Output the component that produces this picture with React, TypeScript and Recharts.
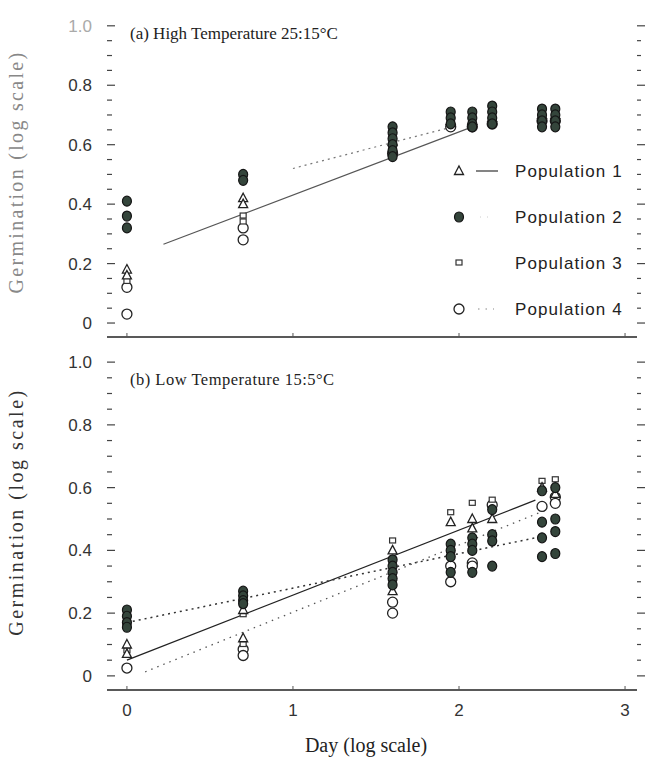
import React from 'react';
import { ComposedChart, Scatter, Line, XAxis, YAxis } from 'recharts';

// log10(day) at which germination was scored
const logDays = [0, 0.7, 1.6, 1.95, 2.08, 2.2, 2.5, 2.58];

// (a) high temperature 25:15C, one list of readings per day
const highPop1 = [[0.18, 0.16], [0.42, 0.4], [0.61], [0.68], [0.68], [0.69], [0.7], [0.7]];
const highPop2 = [
  [0.41, 0.36, 0.32],
  [0.5, 0.48],
  [0.66, 0.64, 0.62, 0.6, 0.58, 0.56],
  [0.71, 0.69, 0.67],
  [0.71, 0.69, 0.67, 0.66],
  [0.73, 0.71, 0.69, 0.67],
  [0.72, 0.7, 0.68, 0.66],
  [0.72, 0.7, 0.68, 0.66],
];
const highPop3 = [[0.14], [0.36, 0.34], [0.59], [0.67], [0.67], [0.68], [0.69], [0.69]];
const highPop4 = [[0.12, 0.03], [0.32, 0.28], [0.57], [0.66], [0.66], [0.67], [0.68], [0.68]];

// (b) low temperature 15:5C
const lowPop1 = [[0.1, 0.07], [0.21, 0.12], [0.4, 0.27], [0.49], [0.5, 0.47], [0.5], [0.6], [0.58]];
const lowPop2 = [
  [0.21, 0.19, 0.17, 0.155],
  [0.27, 0.255, 0.24, 0.23],
  [0.37, 0.35, 0.33, 0.31, 0.29],
  [0.42, 0.4, 0.38, 0.33],
  [0.44, 0.42, 0.4, 0.33],
  [0.53, 0.45, 0.43, 0.35],
  [0.59, 0.49, 0.44, 0.38],
  [0.6, 0.5, 0.46, 0.39],
];
const lowPop3 = [[0.08], [0.195, 0.1], [0.43], [0.52], [0.55], [0.56], [0.62], [0.625]];
const lowPop4 = [[0.025], [0.085, 0.065], [0.235, 0.2], [0.35, 0.3], [0.36, 0.35], [0.545], [0.54], [0.57, 0.55]];

// fitted lines (end points)
const highFit1 = [{ x: 0.22, y: 0.265 }, { x: 2.08, y: 0.66 }];
const highFit2 = [{ x: 1.0, y: 0.52 }, { x: 1.96, y: 0.66 }];
const lowFit1 = [{ x: 0, y: 0.05 }, { x: 2.46, y: 0.56 }];
const lowFit2 = [{ x: 0, y: 0.17 }, { x: 2.46, y: 0.44 }];
const lowFit4 = [{ x: 0.11, y: 0.013 }, { x: 2.53, y: 0.53 }];

const xTicks = [0, 1, 2, 3];
const yTicks = [0, 0.05, 0.1, 0.15, 0.2, 0.25, 0.3, 0.35, 0.4, 0.45, 0.5, 0.55, 0.6, 0.65, 0.7, 0.75, 0.8, 0.85, 0.9, 0.95, 1.0];
const yMajor = [0, 0.2, 0.4, 0.6, 0.8, 1.0];
const yMajorLabels = ['0', '0.2', '0.4', '0.6', '0.8', '1.0'];
const legendNames = ['Population 1', 'Population 2', 'Population 3', 'Population 4'];

const toPoints = (cols: number[][]) =>
  cols.flatMap((ys, i) => ys.map((y) => ({ x: logDays[i], y })));

const SANS = '"Liberation Sans", Arial, sans-serif';
const SERIF = '"Liberation Serif", "Times New Roman", serif';
const INK = '#222';

const Tri = ({ cx, cy }: any) => (
  <path d={`M${cx},${cy - 5} L${cx + 4.5},${cy + 3.5} L${cx - 4.5},${cy + 3.5} Z`} fill="#fff" stroke={INK} strokeWidth={1.3} />
);
const Dot = ({ cx, cy }: any) => (
  <ellipse cx={cx} cy={cy} rx={4.5} ry={5} fill="#34453b" stroke="#151515" strokeWidth={1.2} />
);
const Sq = ({ cx, cy }: any) => (
  <rect x={cx - 3} y={cy - 3} width={6} height={5} fill="#fff" stroke="#333" strokeWidth={1.2} />
);
const Ring = ({ cx, cy }: any) => (
  <circle cx={cx} cy={cy} r={5} fill="#fff" stroke={INK} strokeWidth={1.3} />
);

const LeftTick = ({ x, y, payload, fadeTop }: any) => {
  const idx = yMajor.indexOf(payload.value);
  const major = idx >= 0;
  const faded = fadeTop && payload.value === 1.0;
  return (
    <g>
      <line x1={x} x2={x + (major ? 8 : 5)} y1={y} y2={y} stroke="#444" strokeWidth={1.2} />
      {major && (
        <text x={x - 15} y={y + 6} textAnchor="end" fontFamily={SANS} fontSize={17} fill={faded ? '#aaa' : '#333'}>
          {yMajorLabels[idx]}
        </text>
      )}
    </g>
  );
};

const RightTick = ({ x, y, payload }: any) => {
  const major = yMajor.indexOf(payload.value) >= 0;
  return <line x1={x} x2={x + (major ? 8 : 4)} y1={y} y2={y} stroke="#444" strokeWidth={1.2} />;
};

const BottomTick = ({ x, y, payload, showLabel }: any) => (
  <g>
    <line x1={x} x2={x} y1={y} y2={y - 4} stroke="#555" />
    {showLabel && (
      <text x={x} y={y + 26} textAnchor="middle" fontFamily={SANS} fontSize={17} fill="#333">
        {payload.value}
      </text>
    )}
  </g>
);

const TopTick = ({ x, y }: any) => <line x1={x} x2={x} y1={y} y2={y + 4} stroke="#666" />;

const Panel = ({ height, top, domain, fits, pops, showX, fadeTop, topLine }: any) => (
  <div style={{ position: 'absolute', left: 0, top }}>
    <ComposedChart width={645} height={height} margin={{ top: topLine.margin, right: 0, bottom: 0, left: 0 }}>
      <XAxis
        dataKey="x"
        type="number"
        domain={[-0.12, 3.072]}
        ticks={xTicks}
        allowDataOverflow
        height={showX ? 71 : 5}
        tickSize={0}
        tickMargin={0}
        tickLine={false}
        axisLine={{ stroke: '#222', strokeWidth: 1.6 }}
        tick={(p: any) => <BottomTick {...p} showLabel={showX} />}
      />
      <XAxis
        xAxisId="top"
        orientation="top"
        type="number"
        domain={[-0.12, 3.072]}
        ticks={xTicks}
        allowDataOverflow
        height={0}
        tickSize={0}
        tickMargin={0}
        tickLine={false}
        axisLine={topLine.style}
        tick={(p: any) => <TopTick {...p} />}
      />
      <YAxis
        type="number"
        domain={domain}
        ticks={yTicks}
        allowDataOverflow
        width={107}
        tickSize={0}
        tickMargin={0}
        tickLine={false}
        axisLine={false}
        interval={0}
        tick={(p: any) => <LeftTick {...p} fadeTop={fadeTop} />}
      />
      <YAxis
        yAxisId="r"
        orientation="right"
        type="number"
        domain={domain}
        ticks={yTicks}
        allowDataOverflow
        width={8}
        tickSize={0}
        tickMargin={0}
        tickLine={false}
        axisLine={false}
        interval={0}
        tick={(p: any) => <RightTick {...p} />}
      />
      {fits.map((f: any, i: number) => (
        <Line
          key={'f' + i}
          data={f.data}
          dataKey="y"
          type="linear"
          stroke={f.color}
          strokeWidth={f.width}
          strokeDasharray={f.dash}
          dot={false}
          activeDot={false}
          isAnimationActive={false}
        />
      ))}
      <Scatter data={toPoints(pops[3])} dataKey="y" shape={Ring} isAnimationActive={false} />
      <Scatter data={toPoints(pops[2])} dataKey="y" shape={Sq} isAnimationActive={false} />
      <Scatter data={toPoints(pops[0])} dataKey="y" shape={Tri} isAnimationActive={false} />
      <Scatter data={toPoints(pops[1])} dataKey="y" shape={Dot} isAnimationActive={false} />
    </ComposedChart>
  </div>
);

const legendRows = [171, 217, 263, 309];

export default function App() {
  return (
    <div style={{ position: 'absolute', left: 0, top: 0, width: 645, height: 761, background: '#fff', overflow: 'hidden' }}>
      <Panel
        top={0}
        height={342}
        domain={[-0.047, 1.07]}
        showX={false}
        fadeTop
        topLine={{ margin: 5, style: { stroke: '#bbb', strokeWidth: 1, strokeDasharray: '8 6' } }}
        pops={[highPop1, highPop2, highPop3, highPop4]}
        fits={[
          { data: highFit1, color: '#555', width: 1.1 },
          { data: highFit2, color: '#777', width: 1.2, dash: '2 4' },
        ]}
      />
      <Panel
        top={345}
        height={416}
        domain={[-0.045, 1.045]}
        showX
        topLine={{ margin: 3, style: { stroke: '#222', strokeWidth: 1.6 } }}
        pops={[lowPop1, lowPop2, lowPop3, lowPop4]}
        fits={[
          { data: lowFit1, color: '#222', width: 1.3 },
          { data: lowFit2, color: '#333', width: 1.5, dash: '2 4' },
          { data: lowFit4, color: '#555', width: 1.3, dash: '1.5 5' },
        ]}
      />
      <svg width={645} height={761} style={{ position: 'absolute', left: 0, top: 0, pointerEvents: 'none' }}>
        <text x={130} y={39} fontFamily={SERIF} fontSize={17} fill="#222">(a) High Temperature 25:15°C</text>
        <text x={130} y={385} fontFamily={SERIF} fontSize={16.5} letterSpacing={0.5} fill="#222">(b)  Low Temperature 15:5°C</text>
        <text transform="translate(23,172) rotate(-90)" textAnchor="middle" fontFamily={SERIF} fontSize={20} letterSpacing={2.3} fill="#888">
          Germination (log scale)
        </text>
        <text transform="translate(23,512) rotate(-90)" textAnchor="middle" fontFamily={SERIF} fontSize={20} letterSpacing={2.5} fill="#333">
          Germination (log scale)
        </text>
        <text x={366} y={752} textAnchor="middle" fontFamily={SERIF} fontSize={20} fill="#222">Day (log scale)</text>
        {/* legend */}
        <Tri cx={459} cy={legendRows[0]} />
        <line x1={476} x2={498} y1={legendRows[0]} y2={legendRows[0]} stroke="#333" strokeWidth={1.2} />
        <Dot cx={459} cy={legendRows[1]} />
        <line x1={480} x2={494} y1={legendRows[1]} y2={legendRows[1]} stroke="#ccc" strokeWidth={1} strokeDasharray="1 6" />
        <Sq cx={459} cy={legendRows[2]} />
        <Ring cx={459} cy={legendRows[3]} />
        <line x1={478} x2={494} y1={legendRows[3]} y2={legendRows[3]} stroke="#888" strokeWidth={1.2} strokeDasharray="1.5 6" />
        {legendNames.map((n, i) => (
          <text key={n} x={515} y={legendRows[i] + 6} fontFamily={SANS} fontSize={17} letterSpacing={1.1} fill="#222">
            {n}
          </text>
        ))}
      </svg>
    </div>
  );
}
